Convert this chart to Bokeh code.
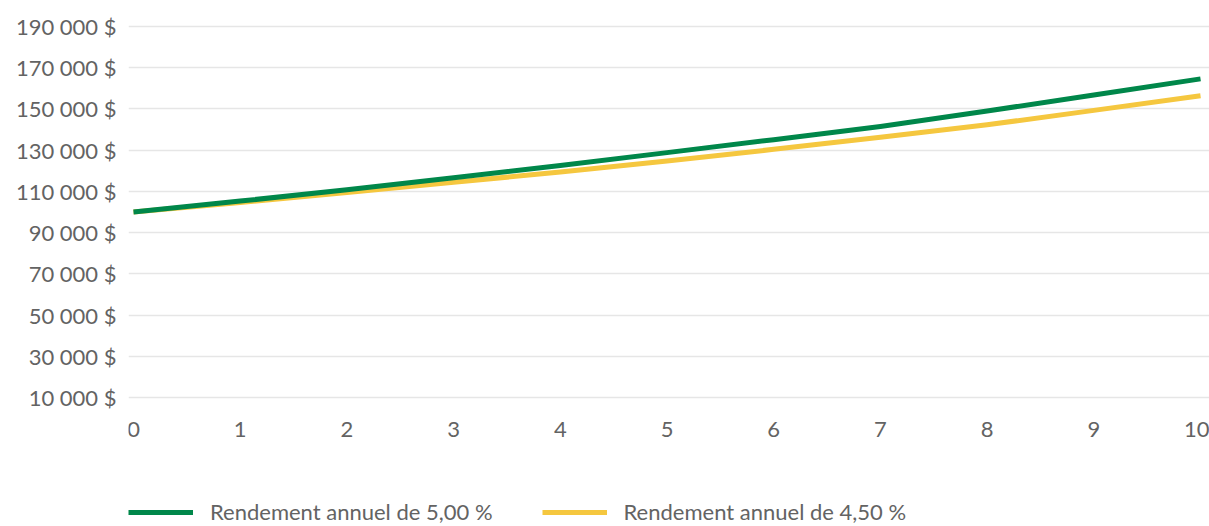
from bokeh.plotting import figure
from bokeh.models import Range1d, FixedTicker, Legend, LegendItem, LinearAxis
from bokeh.embed import file_html
from bokeh.resources import INLINE

years = [0, 1, 2, 3, 4, 5, 6, 7, 8, 9, 10]
rend_500 = [100000, 105300, 110800, 116600, 122600, 128800, 135100, 141500, 149000, 156800, 164600]
rend_450 = [100000, 104600, 109500, 114400, 119400, 124700, 130400, 136300, 142300, 149300, 156400]
y_ticks = [10000, 30000, 50000, 70000, 90000, 110000, 130000, 150000, 170000, 190000]
y_labels = ["10 000 $", "30 000 $", "50 000 $", "70 000 $", "90 000 $",
            "110 000 $", "130 000 $", "150 000 $", "170 000 $", "190 000 $"]
series_names = ["Rendement annuel de 5,00 %", "Rendement annuel de 4,50 %"]
series_colors = ["#00874A", "#F5C73F"]

FONT = "Lato"
TXT = "#636363"
FS = "22px"

p = figure(width=1209, height=526, output_backend="svg", toolbar_location=None,
           x_range=Range1d(-0.047, 10.084), y_range=Range1d(-52588, 192911),
           x_axis_location=None,
           min_border_left=128, min_border_right=0, min_border_top=20, min_border_bottom=0)
p.outline_line_color = None
p.background_fill_color = "white"

r2 = p.line(years, rend_450, line_color=series_colors[1], line_width=5, line_join="round")
r1 = p.line(years, rend_500, line_color=series_colors[0], line_width=5, line_join="round")

p.xgrid.grid_line_color = None
p.ygrid.grid_line_color = "#e6e6e6"
p.ygrid.grid_line_width = 1.5
p.ygrid.ticker = FixedTicker(ticks=y_ticks)

xaxis = LinearAxis(fixed_location=10000, ticker=FixedTicker(ticks=years))
p.add_layout(xaxis, "below")

p.yaxis.ticker = FixedTicker(ticks=y_ticks)
p.yaxis.major_label_overrides = {t: l for t, l in zip(y_ticks, y_labels)}
for ax in (xaxis, p.yaxis[0]):
    ax.axis_line_color = None
    ax.major_tick_line_color = None
    ax.minor_tick_line_color = None
    ax.major_tick_out = 0
    ax.major_tick_in = 0
    ax.major_label_text_font = FONT
    ax.major_label_text_font_size = FS
    ax.major_label_text_color = TXT
p.yaxis.major_label_standoff = 12
xaxis.major_label_standoff = 25

legend = Legend(items=[LegendItem(label=series_names[0], renderers=[r1]),
                       LegendItem(label=series_names[1], renderers=[r2])],
                location=(0, 1), orientation="horizontal",
                glyph_width=65, glyph_height=20, label_standoff=17, spacing=49,
                padding=0, margin=0, border_line_color=None,
                background_fill_alpha=0,
                label_text_font=FONT, label_text_font_size=FS,
                label_text_color=TXT, label_height=20)
p.add_layout(legend, "center")

open("out.html", "w").write(file_html(p, INLINE))
